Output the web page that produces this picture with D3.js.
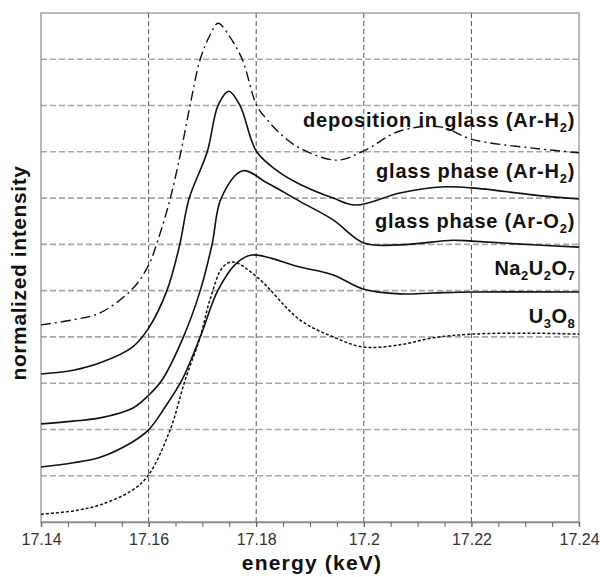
<!DOCTYPE html>
<html>
<head>
<meta charset="utf-8">
<script src="https://cdn.jsdelivr.net/npm/d3@7"></script>
<style>
  body { margin: 0; background: #fff; }
  text { font-family: "Liberation Sans", Arial, sans-serif; }
</style>
</head>
<body>
<svg width="600" height="577"></svg>
<script>
// chart values (energy in keV, intensity offset per curve)
var eDep = [17.140, 17.146, 17.151, 17.1571, 17.160, 17.1617, 17.164, 17.166, 17.1677, 17.1696, 17.1714, 17.1729, 17.1749, 17.1774, 17.1801, 17.182, 17.1844, 17.1881, 17.195, 17.200, 17.2067, 17.2142, 17.2201, 17.2314, 17.240];
var vDep = [4.26, 4.37, 4.52, 5.05, 5.55, 6.08, 6.98, 8.0, 9.0, 10.0, 10.52, 10.78, 10.52, 10.0, 9.0, 8.7, 8.4, 8.08, 7.82, 8.02, 8.45, 8.54, 8.27, 8.08, 7.98];

var eGlassH2 = [17.140, 17.146, 17.151, 17.157, 17.160, 17.1634, 17.1658, 17.1675, 17.1709, 17.1729, 17.1749, 17.177, 17.1801, 17.1844, 17.1881, 17.1943, 17.1985, 17.2067, 17.2142, 17.2201, 17.2314, 17.240];
var vGlassH2 = [3.20, 3.28, 3.44, 3.78, 4.19, 5.0, 6.0, 6.98, 8.0, 9.0, 9.31, 9.0, 8.0, 7.55, 7.3, 7.0, 6.85, 7.11, 7.24, 7.22, 7.07, 6.98];

var eGlassO2 = [17.140, 17.146, 17.151, 17.157, 17.160, 17.1625, 17.1664, 17.1696, 17.1718, 17.1735, 17.1775, 17.182, 17.1881, 17.1943, 17.200, 17.2067, 17.2166, 17.2201, 17.2314, 17.240];
var vGlassO2 = [2.12, 2.18, 2.25, 2.46, 2.74, 3.07, 3.98, 5.0, 6.0, 7.0, 7.59, 7.33, 6.93, 6.53, 6.03, 5.99, 6.09, 6.07, 5.99, 5.94];

var eNa = [17.140, 17.146, 17.151, 17.157, 17.160, 17.1631, 17.1662, 17.1696, 17.1729, 17.1764, 17.1792, 17.1881, 17.1943, 17.200, 17.2067, 17.2129, 17.2201, 17.240];
var vNa = [1.19, 1.28, 1.40, 1.73, 1.99, 2.49, 3.07, 4.0, 5.01, 5.6, 5.77, 5.51, 5.34, 5.03, 4.93, 4.95, 4.97, 4.97];

var eU3O8 = [17.140, 17.146, 17.151, 17.157, 17.160, 17.164, 17.1668, 17.1696, 17.1714, 17.1738, 17.1757, 17.1801, 17.1881, 17.1943, 17.200, 17.2067, 17.2129, 17.2201, 17.2314, 17.240];
var vU3O8 = [0.17, 0.24, 0.37, 0.69, 1.02, 1.99, 3.07, 4.0, 4.80, 5.51, 5.62, 5.30, 4.37, 4.0, 3.78, 3.83, 3.98, 4.06, 4.08, 4.06];

var xTicks = [17.14, 17.16, 17.18, 17.2, 17.22, 17.24];
var xTickLabels = ["17.14", "17.16", "17.18", "17.2", "17.22", "17.24"];
var yGrid = [1, 2, 3, 4, 5, 6, 7, 8, 9, 10];

// curve labels: text pieces [text, isSubscript] and the baseline level
var labelParts = [
  [["deposition in glass (Ar-H", 0], ["2", 1], [")", 0]],
  [["glass phase (Ar-H", 0], ["2", 1], [")", 0]],
  [["glass phase (Ar-O", 0], ["2", 1], [")", 0]],
  [["Na", 0], ["2", 1], ["U", 0], ["2", 1], ["O", 0], ["7", 1]],
  [["U", 0], ["3", 1], ["O", 0], ["8", 1]]
];
var labelLevels = [8.54, 7.43, 6.35, 5.34, 4.30];

// layout
var width = 600, height = 577;
var margin = {top: 13, right: 21, bottom: 55, left: 41};

var svg = d3.select("svg");

var x = d3.scaleLinear().domain([17.14, 17.24]).range([margin.left, width - margin.right]);
var y = d3.scaleLinear().domain([0, 11]).range([height - margin.bottom, margin.top]);

// horizontal grid
svg.append("g")
  .selectAll("line")
  .data(yGrid)
  .enter()
  .append("line")
  .attr("x1", x(17.14)).attr("x2", x(17.24))
  .attr("y1", d => y(d)).attr("y2", d => y(d))
  .attr("stroke", "#a8a8a8")
  .attr("stroke-width", 1.6)
  .attr("stroke-dasharray", "6,3");

// vertical grid
svg.append("g")
  .selectAll("line")
  .data(xTicks.slice(1, -1))
  .enter()
  .append("line")
  .attr("x1", d => x(d)).attr("x2", d => x(d))
  .attr("y1", y(0)).attr("y2", y(11))
  .attr("stroke", "#555")
  .attr("stroke-width", 1)
  .attr("stroke-dasharray", "5,3");

// frame
svg.append("rect")
  .attr("x", x(17.14)).attr("y", y(11))
  .attr("width", x(17.24) - x(17.14))
  .attr("height", y(0) - y(11))
  .attr("fill", "none")
  .attr("stroke", "#8a8a8a")
  .attr("stroke-width", 1.2);

// x axis: minor ticks then major labels
var xAxisMinor = d3.axisBottom(x).ticks(20).tickSize(5).tickFormat("");
var gMinor = svg.append("g")
  .attr("transform", "translate(0," + y(0) + ")")
  .call(xAxisMinor);
gMinor.select(".domain").attr("stroke", "#8a8a8a").attr("stroke-width", 1.6);
gMinor.selectAll(".tick line").attr("stroke", "#666");
gMinor.selectAll(".tick text").remove();

var xAxis = d3.axisBottom(x)
  .tickValues(xTicks)
  .tickSize(5)
  .tickFormat((d, i) => xTickLabels[i]);
var gx = svg.append("g")
  .attr("transform", "translate(0," + y(0) + ")")
  .call(xAxis);
gx.select(".domain").remove();
gx.selectAll(".tick line").attr("stroke", "#666");
gx.selectAll(".tick text")
  .attr("font-size", 16)
  .attr("fill", "#333")
  .attr("dy", "0.95em")
  .attr("font-family", "'Liberation Sans', Arial, sans-serif");

// axis titles
svg.append("text")
  .attr("x", 312)
  .attr("y", 570)
  .attr("text-anchor", "middle")
  .attr("font-size", 21)
  .attr("font-weight", "bold")
  .attr("letter-spacing", 1.2)
  .attr("fill", "#111")
  .text("energy (keV)");

svg.append("text")
  .attr("transform", "translate(26," + 273 + ") rotate(-90)")
  .attr("text-anchor", "middle")
  .attr("font-size", 21)
  .attr("font-weight", "bold")
  .attr("letter-spacing", 0.6)
  .attr("fill", "#111")
  .text("normalized intensity");

// curves
var line = d3.line()
  .x(d => x(d[0]))
  .y(d => y(d[1]))
  .curve(d3.curveCatmullRom.alpha(0.5));

var series = [
  {e: eDep, v: vDep, dash: "10,4,2,4", w: 1.4},
  {e: eGlassH2, v: vGlassH2, dash: null, w: 1.6},
  {e: eGlassO2, v: vGlassO2, dash: null, w: 1.6},
  {e: eNa, v: vNa, dash: null, w: 1.6},
  {e: eU3O8, v: vU3O8, dash: "3,2", w: 1.5}
];

svg.append("g")
  .selectAll("path")
  .data(series)
  .enter()
  .append("path")
  .attr("d", s => line(s.e.map((e, i) => [e, s.v[i]])))
  .attr("fill", "none")
  .attr("stroke", "#111")
  .attr("stroke-width", s => s.w)
  .attr("stroke-dasharray", s => s.dash);

// curve labels
var labels = svg.append("g")
  .selectAll("text")
  .data(labelParts)
  .enter()
  .append("text")
  .attr("x", x(17.2393))
  .attr("y", (d, i) => y(labelLevels[i]))
  .attr("text-anchor", "end")
  .attr("font-size", 20)
  .attr("font-weight", "bold")
  .attr("letter-spacing", (d, i) => i < 3 ? 0.8 : 0.5)
  .attr("fill", "#111");

labels.selectAll("tspan")
  .data(d => d)
  .enter()
  .append("tspan")
  .attr("font-size", p => p[1] ? 13 : 20)
  .attr("dy", (p, i, nodes) => {
    var prev = i > 0 ? d3.select(nodes[i - 1]).datum()[1] : 0;
    if (p[1] && !prev) return 5;
    if (!p[1] && prev) return -5;
    return 0;
  })
  .text(p => p[0]);
</script>
</body>
</html>
